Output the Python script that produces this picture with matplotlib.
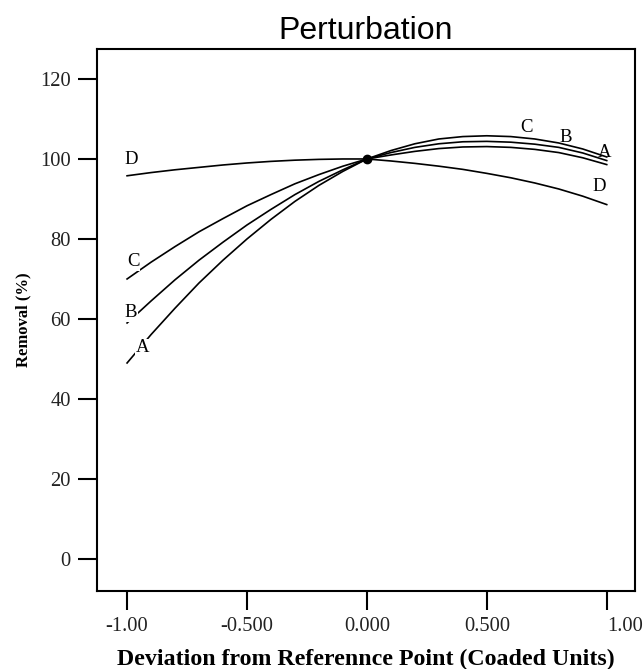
import matplotlib
matplotlib.use("Agg")
import matplotlib.pyplot as plt

# deviation from reference point (coded units)
dev = [-1.0, -0.9, -0.8, -0.7, -0.6, -0.5, -0.4, -0.3, -0.2, -0.1, 0.0,
       0.1, 0.2, 0.3, 0.4, 0.5, 0.6, 0.7, 0.8, 0.9, 1.0]

# removal (%)
removal_A = [49.0, 56.1, 62.7, 69.0, 74.7, 80.0, 84.9, 89.4, 93.4, 96.9, 100.0,
             101.0, 101.9, 102.6, 103.0, 103.1, 102.9, 102.4, 101.6, 100.3, 98.6]
removal_B = [59.0, 64.5, 69.8, 74.7, 79.2, 83.5, 87.4, 91.1, 94.4, 97.3, 100.0,
             101.6, 102.9, 103.8, 104.3, 104.4, 104.2, 103.7, 102.9, 101.5, 99.6]
removal_C = [70.0, 74.2, 78.1, 81.8, 85.1, 88.3, 91.1, 93.8, 96.1, 98.2, 100.0,
             102.1, 103.8, 105.0, 105.6, 105.8, 105.6, 105.0, 104.0, 102.5, 100.5]
removal_D = [95.8, 96.6, 97.3, 97.9, 98.5, 99.0, 99.4, 99.7, 99.9, 100.0, 100.0,
             99.5, 98.9, 98.2, 97.4, 96.4, 95.3, 94.0, 92.5, 90.7, 88.6]

x_ticks = [-1.0, -0.5, 0.0, 0.5, 1.0]
x_ticklabels = ["-1.00", "-0.500", "0.000", "0.500", "1.00"]
y_ticks = [0, 20, 40, 60, 80, 100, 120]

serif = "Liberation Serif"

fig = plt.figure(figsize=(6.43, 6.69), dpi=100)
ax = fig.add_axes([0.151, 0.1166, 0.8366, 0.8102])

for y in [removal_A, removal_B, removal_C, removal_D]:
    ax.plot(dev, y, color="black", lw=1.2, zorder=2)

# reference point
ax.plot([0.0], [100.0], "o", color="black", ms=6, zorder=3)

# curve labels, left end (cover the line like the original)
box = dict(facecolor="white", edgecolor="none", pad=0.5)
ax.text(-0.983, 99.8, "D", family=serif, fontsize=13.5, ha="center", va="center")
ax.text(-0.975, 74.3, "C", family=serif, fontsize=13.5, ha="center", va="center", bbox=box, zorder=4)
ax.text(-0.983, 61.5, "B", family=serif, fontsize=13.5, ha="center", va="center", bbox=box, zorder=4)
ax.text(-0.935, 52.8, "A", family=serif, fontsize=13.5, ha="center", va="center", bbox=box, zorder=4)
# right end
ax.text(0.667, 107.8, "C", family=serif, fontsize=13.5, ha="center", va="center")
ax.text(0.829, 105.3, "B", family=serif, fontsize=13.5, ha="center", va="center")
ax.text(0.99, 101.5, "A", family=serif, fontsize=13.5, ha="center", va="center")
ax.text(0.97, 93.0, "D", family=serif, fontsize=13.5, ha="center", va="center")

ax.set_xlim(-1.125, 1.118)
ax.set_ylim(-8, 127.5)
ax.set_xticks(x_ticks)
ax.set_xticklabels(x_ticklabels)
ax.set_yticks(y_ticks)
for lab in ax.get_xticklabels() + ax.get_yticklabels():
    lab.set_family(serif)
    lab.set_fontsize(14.8)
    lab.set_color("#222222")
ax.get_xticklabels()[-1].set_ha("left")
ax.tick_params(direction="out", length=14, width=1.5, pad=5)

for s in ax.spines.values():
    s.set_linewidth(1.5)

ax.set_title("Perturbation", fontsize=23, family="Liberation Sans", pad=7)
ax.set_xlabel("Deviation from Referennce Point (Coaded Units)", family=serif,
              fontsize=17.2, fontweight="bold", labelpad=9)
ax.set_ylabel("Removal (%)", family=serif, fontsize=12, fontweight="bold", labelpad=6)

fig.savefig("out.png", dpi=100)
